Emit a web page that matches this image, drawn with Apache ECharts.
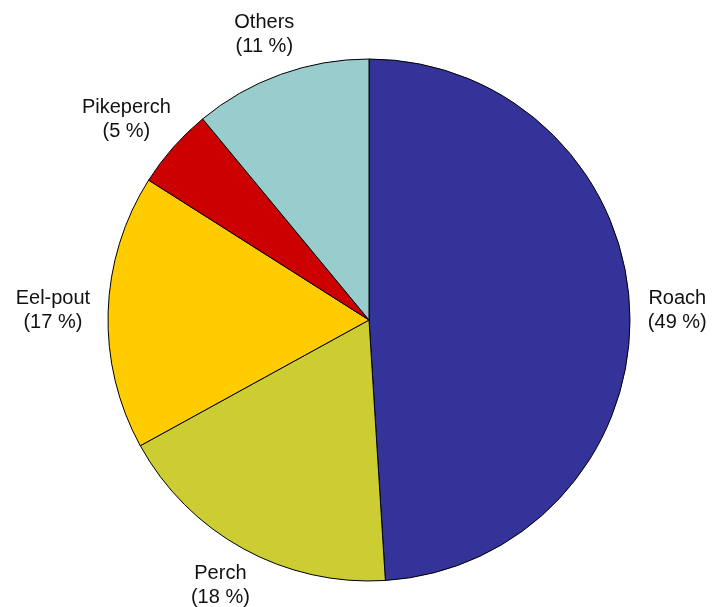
<!DOCTYPE html>
<html>
<head>
<meta charset="utf-8">
<script src="https://cdn.jsdelivr.net/npm/echarts@6/dist/echarts.min.js"></script>
<style>
  html, body { margin: 0; padding: 0; background: #fff; }
  #chart { width: 715px; height: 607px; }
</style>
</head>
<body>
<div id="chart"></div>
<script>
const categories = ['Roach', 'Perch', 'Eel-pout', 'Pikeperch', 'Others']
const shares = [49, 18, 17, 5, 11]
const colors = ['#333399', '#CCCC33', '#FFCC00', '#CC0000', '#99CCCC']

const cx = 369
const cy = 320
const radius = 261
const gap = 18

const total = shares.reduce((a, b) => a + b, 0)

// mid angle of each slice, clockwise from 12 o'clock
const midAngle = (i) => {
  let before = 0
  for (let k = 0; k < i; k++) before += shares[k]
  return (before + shares[i] / 2) / total * Math.PI * 2
}

const chart = echarts.init(document.getElementById('chart'))
chart.setOption({
  animation: false,
  series: [{
    type: 'pie',
    center: [cx, cy],
    radius: radius,
    startAngle: 90,
    clockwise: true,
    data: categories.map((name, i) => ({
      name: name,
      value: shares[i],
      itemStyle: { color: colors[i] }
    })),
    itemStyle: {
      borderColor: '#000',
      borderWidth: 1
    },
    label: {
      show: true,
      position: 'outside',
      formatter: '{b}\n({c} %)',
      fontFamily: 'Liberation Sans, Arial, sans-serif',
      fontSize: 20,
      lineHeight: 24,
      color: '#111',
      align: 'center',
      overflow: 'none',
      edgeDistance: 0
    },
    labelLine: { show: false },
    emphasis: { disabled: true },
    labelLayout: (params) => {
      const a = midAngle(params.dataIndex)
      const s = Math.sin(a)
      const c = Math.cos(a)
      const hw = params.labelRect.width / 2
      const hh = params.labelRect.height / 2
      return {
        x: cx + (radius + gap) * s + hw * s,
        y: cy - (radius + gap) * c - hh * c,
        align: 'center',
        verticalAlign: 'middle'
      }
    }
  }]
})
</script>
</body>
</html>
